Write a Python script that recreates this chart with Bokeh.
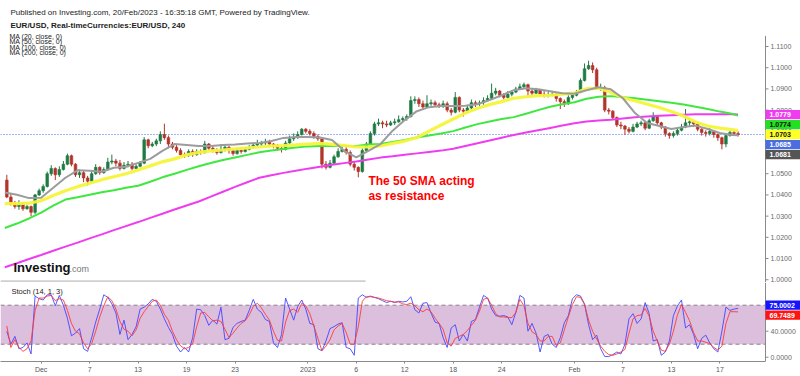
from bokeh.plotting import figure
from bokeh.models import (Range1d, FixedTicker, Span, Label, BoxAnnotation,
                          ColumnDataSource)
from bokeh.layouts import column
from bokeh.embed import file_html
from bokeh.resources import INLINE
from bokeh.core.properties import value

FONT = "Liberation Sans"

# ---------------- data (EUR/USD, 8h candles) ----------------
first_day = -3          # trading-day index of first candle (Nov 28 = -3, Dec 1 = 0)
per_day = 3             # candles per trading day

opens = [1.0470, 1.0390, 1.0360, 1.0345, 1.0360, 1.0335, 1.0345, 1.0318, 1.0400,
         1.0420, 1.0440, 1.0500, 1.0525, 1.0495, 1.0520, 1.0545, 1.0585, 1.0545,
         1.0495, 1.0505, 1.0480, 1.0465, 1.0500, 1.0530, 1.0505, 1.0520, 1.0555,
         1.0560, 1.0550, 1.0525, 1.0540, 1.0545, 1.0525, 1.0535, 1.0550, 1.0660,
         1.0632, 1.0640, 1.0655, 1.0685, 1.0670, 1.0640, 1.0625, 1.0610, 1.0590,
         1.0585, 1.0605, 1.0590, 1.0605, 1.0600, 1.0640, 1.0620, 1.0610, 1.0600,
         1.0615, 1.0625, 1.0610, 1.0595, 1.0610, 1.0605, 1.0615, 1.0625, 1.0635,
         1.0640, 1.0645, 1.0650, 1.0640, 1.0630, 1.0620, 1.0615, 1.0645, 1.0665,
         1.0670, 1.0685, 1.0710, 1.0700, 1.0690, 1.0675, 1.0665, 1.0545, 1.0530,
         1.0550, 1.0580, 1.0605, 1.0615, 1.0600, 1.0545, 1.0530, 1.0510, 1.0610,
         1.0640, 1.0690, 1.0735, 1.0740, 1.0735, 1.0730, 1.0740, 1.0745, 1.0755,
         1.0760, 1.0770, 1.0845, 1.0850, 1.0830, 1.0815, 1.0830, 1.0835, 1.0825,
         1.0820, 1.0830, 1.0800, 1.0790, 1.0860, 1.0800, 1.0795, 1.0810, 1.0835,
         1.0830, 1.0835, 1.0845, 1.0855, 1.0880, 1.0890, 1.0870, 1.0860, 1.0875,
         1.0885, 1.0900, 1.0910, 1.0920, 1.0890, 1.0880, 1.0895, 1.0875, 1.0870,
         1.0870, 1.0875, 1.0855, 1.0840, 1.0830, 1.0860, 1.0870, 1.0885, 1.0940,
         1.0995, 1.1010, 1.0990, 1.0905, 1.0905, 1.0800, 1.0795, 1.0765, 1.0730,
         1.0725, 1.0710, 1.0700, 1.0720, 1.0735, 1.0740, 1.0715, 1.0750, 1.0770,
         1.0740, 1.0720, 1.0690, 1.0680, 1.0690, 1.0705, 1.0720, 1.0740, 1.0745,
         1.0735, 1.0710, 1.0695, 1.0690, 1.0700, 1.0685, 1.0670, 1.0640, 1.0680,
         1.0695, 1.0690]
highs = [1.0495, 1.0405, 1.0372, 1.0375, 1.0365, 1.0355, 1.0350, 1.0405, 1.0430,
         1.0450, 1.0510, 1.0540, 1.0530, 1.0535, 1.0560, 1.0595, 1.0590, 1.0550,
         1.0520, 1.0515, 1.0490, 1.0510, 1.0545, 1.0535, 1.0530, 1.0575, 1.0590,
         1.0570, 1.0565, 1.0555, 1.0560, 1.0555, 1.0545, 1.0560, 1.0673, 1.0665,
         1.0650, 1.0665, 1.0700, 1.0736, 1.0680, 1.0650, 1.0635, 1.0620, 1.0600,
         1.0615, 1.0615, 1.0615, 1.0615, 1.0655, 1.0645, 1.0630, 1.0620, 1.0640,
         1.0635, 1.0630, 1.0620, 1.0620, 1.0625, 1.0625, 1.0635, 1.0645, 1.0660,
         1.0655, 1.0665, 1.0660, 1.0645, 1.0640, 1.0630, 1.0655, 1.0680, 1.0690,
         1.0700, 1.0715, 1.0715, 1.0710, 1.0700, 1.0685, 1.0670, 1.0560, 1.0565,
         1.0590, 1.0620, 1.0630, 1.0625, 1.0610, 1.0555, 1.0535, 1.0620, 1.0650,
         1.0700, 1.0745, 1.0760, 1.0750, 1.0750, 1.0750, 1.0760, 1.0775, 1.0770,
         1.0780, 1.0865, 1.0865, 1.0860, 1.0845, 1.0870, 1.0850, 1.0845, 1.0835,
         1.0845, 1.0840, 1.0810, 1.0885, 1.0865, 1.0810, 1.0825, 1.0850, 1.0845,
         1.0845, 1.0860, 1.0870, 1.0925, 1.0905, 1.0895, 1.0880, 1.0890, 1.0895,
         1.0910, 1.0925, 1.0930, 1.0925, 1.0900, 1.0905, 1.0900, 1.0890, 1.0885,
         1.0890, 1.0880, 1.0860, 1.0850, 1.0870, 1.0880, 1.0895, 1.0950, 1.1020,
         1.1033, 1.1025, 1.1000, 1.0925, 1.0915, 1.0810, 1.0800, 1.0770, 1.0745,
         1.0730, 1.0720, 1.0735, 1.0745, 1.0750, 1.0745, 1.0760, 1.0790, 1.0775,
         1.0745, 1.0725, 1.0695, 1.0700, 1.0715, 1.0735, 1.0805, 1.0760, 1.0750,
         1.0740, 1.0715, 1.0705, 1.0715, 1.0705, 1.0690, 1.0675, 1.0690, 1.0705,
         1.0705, 1.0700]
lows = [1.0385, 1.0350, 1.0335, 1.0330, 1.0325, 1.0330, 1.0300, 1.0310, 1.0395,
        1.0410, 1.0435, 1.0490, 1.0470, 1.0485, 1.0515, 1.0540, 1.0535, 1.0485,
        1.0480, 1.0460, 1.0445, 1.0460, 1.0495, 1.0495, 1.0500, 1.0515, 1.0545,
        1.0535, 1.0515, 1.0520, 1.0530, 1.0515, 1.0520, 1.0530, 1.0545, 1.0620,
        1.0625, 1.0630, 1.0640, 1.0660, 1.0620, 1.0615, 1.0600, 1.0585, 1.0575,
        1.0580, 1.0580, 1.0585, 1.0590, 1.0595, 1.0610, 1.0600, 1.0590, 1.0595,
        1.0605, 1.0595, 1.0585, 1.0590, 1.0595, 1.0600, 1.0610, 1.0620, 1.0630,
        1.0630, 1.0635, 1.0630, 1.0620, 1.0610, 1.0600, 1.0610, 1.0640, 1.0655,
        1.0665, 1.0680, 1.0690, 1.0680, 1.0665, 1.0655, 1.0525, 1.0520, 1.0525,
        1.0545, 1.0575, 1.0600, 1.0590, 1.0535, 1.0515, 1.0483, 1.0505, 1.0600,
        1.0640, 1.0680, 1.0725, 1.0715, 1.0720, 1.0725, 1.0730, 1.0740, 1.0745,
        1.0750, 1.0765, 1.0830, 1.0815, 1.0805, 1.0810, 1.0820, 1.0815, 1.0810,
        1.0810, 1.0790, 1.0775, 1.0785, 1.0790, 1.0770, 1.0785, 1.0800, 1.0815,
        1.0820, 1.0825, 1.0840, 1.0850, 1.0870, 1.0860, 1.0850, 1.0855, 1.0865,
        1.0880, 1.0895, 1.0905, 1.0860, 1.0865, 1.0875, 1.0865, 1.0860, 1.0860,
        1.0865, 1.0840, 1.0805, 1.0815, 1.0825, 1.0850, 1.0865, 1.0880, 1.0935,
        1.0990, 1.0975, 1.0895, 1.0890, 1.0790, 1.0780, 1.0755, 1.0720, 1.0710,
        1.0683, 1.0690, 1.0695, 1.0715, 1.0725, 1.0705, 1.0710, 1.0745, 1.0730,
        1.0710, 1.0675, 1.0665, 1.0670, 1.0680, 1.0700, 1.0715, 1.0725, 1.0720,
        1.0700, 1.0680, 1.0675, 1.0680, 1.0670, 1.0655, 1.0615, 1.0625, 1.0675,
        1.0680, 1.0675]
closes = [1.0390, 1.0360, 1.0345, 1.0360, 1.0335, 1.0345, 1.0318, 1.0400, 1.0420,
          1.0440, 1.0500, 1.0525, 1.0495, 1.0520, 1.0545, 1.0585, 1.0545, 1.0495,
          1.0505, 1.0480, 1.0465, 1.0500, 1.0530, 1.0505, 1.0520, 1.0555, 1.0560,
          1.0550, 1.0525, 1.0540, 1.0545, 1.0525, 1.0535, 1.0550, 1.0660, 1.0632,
          1.0640, 1.0655, 1.0685, 1.0670, 1.0640, 1.0625, 1.0610, 1.0590, 1.0585,
          1.0605, 1.0590, 1.0605, 1.0600, 1.0640, 1.0620, 1.0610, 1.0600, 1.0615,
          1.0625, 1.0610, 1.0595, 1.0610, 1.0605, 1.0615, 1.0625, 1.0635, 1.0640,
          1.0645, 1.0650, 1.0640, 1.0630, 1.0620, 1.0615, 1.0645, 1.0665, 1.0670,
          1.0685, 1.0710, 1.0700, 1.0690, 1.0675, 1.0665, 1.0545, 1.0530, 1.0550,
          1.0580, 1.0605, 1.0615, 1.0600, 1.0545, 1.0530, 1.0510, 1.0610, 1.0640,
          1.0690, 1.0735, 1.0740, 1.0735, 1.0730, 1.0740, 1.0745, 1.0755, 1.0760,
          1.0770, 1.0845, 1.0850, 1.0830, 1.0815, 1.0830, 1.0835, 1.0825, 1.0820,
          1.0830, 1.0800, 1.0790, 1.0860, 1.0800, 1.0795, 1.0810, 1.0835, 1.0830,
          1.0835, 1.0845, 1.0855, 1.0880, 1.0890, 1.0870, 1.0860, 1.0875, 1.0885,
          1.0900, 1.0910, 1.0920, 1.0890, 1.0880, 1.0895, 1.0875, 1.0870, 1.0870,
          1.0875, 1.0855, 1.0840, 1.0830, 1.0860, 1.0870, 1.0885, 1.0940, 1.0995,
          1.1010, 1.0990, 1.0905, 1.0905, 1.0800, 1.0795, 1.0765, 1.0730, 1.0725,
          1.0710, 1.0700, 1.0720, 1.0735, 1.0740, 1.0715, 1.0750, 1.0770, 1.0740,
          1.0720, 1.0690, 1.0680, 1.0690, 1.0705, 1.0720, 1.0740, 1.0745, 1.0735,
          1.0710, 1.0695, 1.0690, 1.0700, 1.0685, 1.0670, 1.0640, 1.0680, 1.0695,
          1.0690, 1.0685]

# moving averages read at the start of each trading day (last point = latest bar)
ma_days = list(range(-3, 58)) + [57.5]
ma20 = [1.0411, 1.0401, 1.0385, 1.0387, 1.0434, 1.0481, 1.0516, 1.0514, 1.0509, 1.0528,
        1.0533, 1.0551, 1.0570, 1.0608, 1.0640, 1.0636, 1.0631, 1.0631, 1.0636, 1.0638,
        1.0643, 1.0645, 1.0654, 1.0669, 1.0673, 1.0673, 1.0671, 1.0659, 1.0608, 1.0577,
        1.0608, 1.0640, 1.0703, 1.0753, 1.0795, 1.0814, 1.0819, 1.0819, 1.0821, 1.0828,
        1.0847, 1.0870, 1.0894, 1.0903, 1.0898, 1.0889, 1.0880, 1.0877, 1.0894, 1.0908,
        1.0898, 1.0856, 1.0786, 1.0739, 1.0725, 1.0711, 1.0720, 1.0727, 1.0711, 1.0692,
        1.0683, 1.0681]
ma50 = [1.0359, 1.0359, 1.0361, 1.0373, 1.0397, 1.0420, 1.0439, 1.0455, 1.0472, 1.0486,
        1.0500, 1.0518, 1.0537, 1.0556, 1.0570, 1.0589, 1.0601, 1.0608, 1.0612, 1.0617,
        1.0622, 1.0626, 1.0631, 1.0633, 1.0636, 1.0640, 1.0643, 1.0638, 1.0633, 1.0626,
        1.0626, 1.0631, 1.0643, 1.0654, 1.0671, 1.0701, 1.0730, 1.0758, 1.0786, 1.0809,
        1.0826, 1.0840, 1.0856, 1.0863, 1.0868, 1.0870, 1.0875, 1.0880, 1.0901, 1.0903,
        1.0884, 1.0858, 1.0844, 1.0828, 1.0812, 1.0793, 1.0772, 1.0744, 1.0725, 1.0715,
        1.0708, 1.0703]
ma100 = [1.0244, 1.0265, 1.0289, 1.0317, 1.0350, 1.0378, 1.0389, 1.0401, 1.0413, 1.0422,
         1.0434, 1.0443, 1.0462, 1.0483, 1.0500, 1.0518, 1.0535, 1.0551, 1.0565, 1.0577,
         1.0589, 1.0601, 1.0610, 1.0617, 1.0624, 1.0629, 1.0631, 1.0631, 1.0631, 1.0631,
         1.0638, 1.0640, 1.0650, 1.0659, 1.0671, 1.0680, 1.0690, 1.0701, 1.0718, 1.0734,
         1.0746, 1.0758, 1.0767, 1.0783, 1.0800, 1.0816, 1.0828, 1.0837, 1.0854, 1.0863,
         1.0866, 1.0861, 1.0856, 1.0849, 1.0842, 1.0835, 1.0826, 1.0816, 1.0805, 1.0793,
         1.0783, 1.0774]
ma200 = [1.0059, 1.0078, 1.0098, 1.0117, 1.0137, 1.0156, 1.0175, 1.0195, 1.0214, 1.0234,
         1.0253, 1.0272, 1.0292, 1.0311, 1.0331, 1.0350, 1.0369, 1.0392, 1.0415, 1.0438,
         1.0460, 1.0481, 1.0493, 1.0504, 1.0514, 1.0524, 1.0533, 1.0542, 1.0550, 1.0558,
         1.0567, 1.0576, 1.0582, 1.0589, 1.0596, 1.0603, 1.0609, 1.0618, 1.0631, 1.0644,
         1.0657, 1.0670, 1.0683, 1.0694, 1.0705, 1.0716, 1.0727, 1.0738, 1.0746, 1.0751,
         1.0755, 1.0761, 1.0766, 1.0770, 1.0773, 1.0776, 1.0778, 1.0780, 1.0781, 1.0781,
         1.0780, 1.0779]

# Stochastic (14, 1, 3): %K and %D, one value per candle
stoch_k = [40, 20, 32, 13, 15, 22, 5, 94, 90, 88, 96, 96, 79, 95, 80, 60, 33, 37, 44, 13,
           9, 30, 54, 74, 96, 92, 82, 68, 35, 57, 27, 35, 47, 74, 77, 82, 89, 86, 74, 59,
           46, 35, 17, 8, 15, 8, 30, 74, 73, 64, 49, 57, 51, 77, 27, 29, 46, 52, 55, 57,
           72, 89, 74, 69, 58, 55, 22, 15, 35, 91, 74, 57, 78, 88, 74, 52, 50, 13, 10, 25,
           44, 47, 51, 53, 15, 13, 3, 91, 96, 92, 94, 92, 90, 87, 84, 86, 84, 86, 85, 86,
           93, 73, 68, 83, 84, 68, 54, 52, 30, 15, 45, 50, 25, 35, 25, 55, 58, 77, 95, 91,
           74, 64, 63, 64, 62, 50, 69, 95, 91, 40, 52, 37, 8, 32, 35, 20, 15, 30, 53, 64,
           90, 96, 94, 82, 50, 27, 34, 13, 1, 1, 4, 8, 5, 20, 59, 67, 52, 59, 84, 67,
           25, 27, 3, 8, 25, 64, 79, 88, 45, 50, 35, 13, 29, 34, 22, 13, 8, 40, 77, 72,
           74, 75.0002]
stoch_d = [48, 15, 27, 15, 9, 13, 25, 72, 91, 91, 94, 95, 87, 90, 88, 72, 52, 40, 36, 22,
           13, 21, 40, 62, 79, 93, 87, 74, 55, 43, 40, 33, 42, 60, 70, 78, 86, 88, 80, 66,
           57, 40, 27, 17.5, 13, 15, 21, 47, 68, 69, 62, 56, 57, 55, 43, 30, 37, 45, 52, 56,
           65, 78, 83, 76, 66, 57, 40, 26, 25, 54, 72, 74, 69, 83, 79, 67, 48, 29, 10, 17,
           27, 42, 48, 52, 38, 20, 20, 47, 86, 93, 93, 92, 91, 89, 87, 86, 85, 85, 82, 81,
           83, 79, 73, 70, 74, 70, 60, 52, 43, 22, 17, 29, 32, 35, 41, 49, 57, 71, 89, 91,
           80, 67, 62, 62, 61, 61, 69, 89, 79, 52, 39, 35, 25, 25, 32, 32, 18, 22, 42, 62,
           81, 93, 92, 81, 57, 40, 28, 17, 9, 4, 3, 5, 8, 12, 37, 59, 64, 65, 75, 63,
           40, 25, 11, 9, 20, 40, 65, 81, 69, 56, 38, 25, 25, 23, 21, 15, 11, 17, 52, 70,
           70, 69.7489]

price_ticks = [1.00, 1.01, 1.02, 1.03, 1.04, 1.05, 1.06, 1.07, 1.08, 1.09, 1.10, 1.11]
stoch_ticks = [0, 40, 80]
tick_days = [0, 4, 8, 12, 16, 22, 26, 30, 34, 38, 44, 48, 52, 56]
tick_labels = ["Dec", "7", "13", "19", "23", "2023", "6", "12", "18", "24",
               "Feb", "7", "13", "17"]

header1 = "Published on Investing.com, 20/Feb/2023 - 16:35:18 GMT, Powered by TradingView."
header2 = "EUR/USD, Real-timeCurrencies:EUR/USD, 240"
ma_names = ["MA (20, close, 0)", "MA (50, close, 0)", "MA (100, close, 0)", "MA (200, close, 0)"]
note_lines = ["The 50 SMA acting", "as resistance"]
note_day = 26          # annotation placed over the Jan 6 dip
stoch_name = "Stoch (14, 1, 3)"

# ---------------- styles / geometry ----------------
UP, DOWN = "#1f7a43", "#b3342a"
C20, C50, C100, C200 = "#9c9c9c", "#f4f43a", "#3fe83f", "#f03cf0"
AXIS_C, LABEL_C = "#8a8a8a", "#6a6a6a"
PXU = 4.04                     # pixels per candle slot
X0 = -1.064                    # left edge of the chart (candle units)
XR = X0 + 800 / PXU            # right edge of the canvas
X_AX = X0 + 765 / PXU          # price-scale line
TICK = 3 / PXU


def day_x(d):
    return (d - first_day) * per_day


n = len(closes)
xs = [j + 0.5 for j in range(n)]
src = ColumnDataSource(dict(
    x=xs, h=highs, l=lows,
    top=[max(o, c) for o, c in zip(opens, closes)],
    bot=[min(o, c) for o, c in zip(opens, closes)],
    col=[UP if c >= o else DOWN for o, c in zip(opens, closes)],
))
ma_x = [day_x(d) for d in ma_days]
xr = Range1d(X0, XR)


def scale(fig, ticks, fmt, lo, hi, tags, per_px):
    """price scale at the right: line, ticks, labels, coloured last-value tags"""
    fig.segment(x0=[X_AX], y0=[lo], x1=[X_AX], y1=[hi], line_color=AXIS_C, line_width=1)
    fig.segment(x0=[X_AX] * len(ticks), y0=ticks, x1=[X_AX + TICK] * len(ticks), y1=ticks,
                line_color=AXIS_C, line_width=1)
    fig.text(x=[X_AX] * len(ticks), y=ticks, text=[fmt % t for t in ticks], x_offset=5,
             text_baseline="middle", text_font=value(FONT), text_font_size="7px",
             text_color=LABEL_C)
    cy = [c for c, _, _, _ in tags]
    fig.quad(left=X_AX, right=XR, top=[c + 4.6 * per_px for c in cy],
             bottom=[c - 4.6 * per_px for c in cy], fill_color=[t[2] for t in tags],
             line_color=None)
    fig.text(x=[X_AX] * len(tags), y=cy, text=[t[1] for t in tags], x_offset=4,
             text_baseline="middle", text_font=value(FONT), text_font_size="7px",
             text_font_style="bold", text_color=[t[3] for t in tags])


# ---------------- main price pane ----------------
Y0, Y1 = 0.9987, 1.1317
H_MAIN = 282
ppx = (Y1 - Y0) / H_MAIN
p = figure(width=800, height=H_MAIN, x_range=xr, y_range=Range1d(Y0, Y1),
           output_backend="svg", toolbar_location=None,
           x_axis_location=None, y_axis_location=None, min_border=0)
p.outline_line_color = None
p.grid.visible = False
p.background_fill_color = "white"
p.border_fill_color = "white"

p.segment(x0=[X0], y0=[closes[-1]], x1=[X_AX], y1=[closes[-1]], line_color="#3f66e0",
          line_dash="1 2", line_width=1)
p.segment(x0="x", y0="h", x1="x", y1="l", color="col", line_width=1, source=src)
p.vbar(x="x", width=0.66, top="top", bottom="bot", fill_color="col",
       line_color="col", line_width=0.6, source=src)

p.line(ma_x, ma200, color=C200, line_width=2)
p.line(ma_x, ma100, color=C100, line_width=2)
p.line(ma_x, ma50, color=C50, line_width=3.2, alpha=0.95)
p.line(ma_x, ma20, color=C20, line_width=2)

p.add_layout(BoxAnnotation(right=89.3, top=0.9998, fill_color="#cfcfcf",
                           fill_alpha=1, line_color=None))

tag_vals = [ma200[-1], ma100[-1], ma50[-1], closes[-1], ma20[-1]]
tag_bg = [C200, "#22e022", "#ffff2a", "#4a6ee0", "#555555"]
tag_fg = ["white", "#111111", "#111111", "white", "white"]
main_tags = [(tag_vals[0] - 10 * k * ppx, f"{v:.4f}", bg, fg)
             for k, (v, bg, fg) in enumerate(zip(tag_vals, tag_bg, tag_fg))]
scale(p, price_ticks, "%.4f", Y0, 1.1150, main_tags, ppx)

# headers
for txt, yo, style in [(header1, -11.5, "normal"), (header2, -24.5, "bold")]:
    p.add_layout(Label(x=X0, y=Y1, x_offset=10, y_offset=yo, text=txt,
                       text_font=FONT, text_font_size="8px", text_font_style=style,
                       text_color="#222222", text_baseline="middle"))
for k, txt in enumerate(ma_names):
    p.add_layout(Label(x=X0, y=Y1, x_offset=9, y_offset=-35.5 - 5.6 * k, text=txt,
                       text_font=FONT, text_font_size="7px", text_color="#222222",
                       text_baseline="middle"))

# watermark
p.add_layout(Label(x=X0, y=Y0, x_offset=13, y_offset=15, text="Investing",
                   text_font=FONT, text_font_size="13px", text_font_style="bold",
                   text_color="#111111", text_baseline="middle"))
p.add_layout(Label(x=X0, y=Y0, x_offset=69, y_offset=14, text=".com",
                   text_font=FONT, text_font_size="9px", text_color="#777777",
                   text_baseline="middle"))

# red comment
note_y = [1.0466, 1.0393]
for txt, yy in zip(note_lines, note_y):
    p.add_layout(Label(x=day_x(note_day) + 3.0, y=yy, text=txt, text_font=FONT,
                       text_font_size="12px", text_font_style="bold",
                       text_color="#ff0000", text_baseline="middle"))

# ---------------- stochastic pane ----------------
S0, S1 = -6.6, 114.9
H_ST, B_ST = 94, 15
spx = (S1 - S0) / (H_ST - B_ST)
s = figure(width=800, height=H_ST, x_range=xr, y_range=Range1d(S0, S1),
           output_backend="svg", toolbar_location=None,
           y_axis_location=None, x_axis_location="below",
           min_border_left=0, min_border_right=0, min_border_top=0, min_border_bottom=B_ST)
s.outline_line_color = None
s.grid.visible = False
s.background_fill_color = "white"
s.border_fill_color = "white"

s.add_layout(BoxAnnotation(bottom=20, top=80, right=X_AX, fill_color="#dcbedd",
                           fill_alpha=1, line_color=None, level="underlay"))
s.segment(x0=[X0, X0], y0=[20, 80], x1=[X_AX, X_AX], y1=[20, 80], line_color="#8c7f8c",
          line_dash="4 3", line_width=1)
s.line(xs, stoch_k, color="#4646ff", line_width=1, alpha=0.9)
s.line(xs, stoch_d, color="#ff3c3c", line_width=1, alpha=0.9)

mid = (stoch_k[-1] + stoch_d[-1]) / 2
st_tags = [(mid + 5 * spx, f"{stoch_k[-1]:.4f}", "#1414ff", "white"),
           (mid - 5 * spx, f"{stoch_d[-1]:.4f}", "#ff1414", "white")]
scale(s, stoch_ticks, "%.4f", S0, S1, st_tags, spx)

sx = s.xaxis[0]
tick_pos = [day_x(d) for d in tick_days]
sx.ticker = FixedTicker(ticks=tick_pos)
sx.major_label_overrides = {float(t): lab for t, lab in zip(tick_pos, tick_labels)}
sx.bounds = (X0, X_AX)
sx.axis_line_color = AXIS_C
sx.major_tick_line_color = AXIS_C
sx.major_tick_out = 2
sx.major_tick_in = 0
sx.minor_tick_out = 0
sx.minor_tick_in = 0
sx.major_label_standoff = 2
sx.major_label_text_font = FONT
sx.major_label_text_font_size = "7px"
sx.major_label_text_color = "#555555"

s.add_layout(Label(x=X0, y=S1, x_offset=11, y_offset=-9, text=stoch_name,
                   text_font=FONT, text_font_size="7.5px", text_color="#222222",
                   text_baseline="middle"))

layout = column(p, s, spacing=0)
open("out.html", "w").write(file_html(layout, INLINE))
